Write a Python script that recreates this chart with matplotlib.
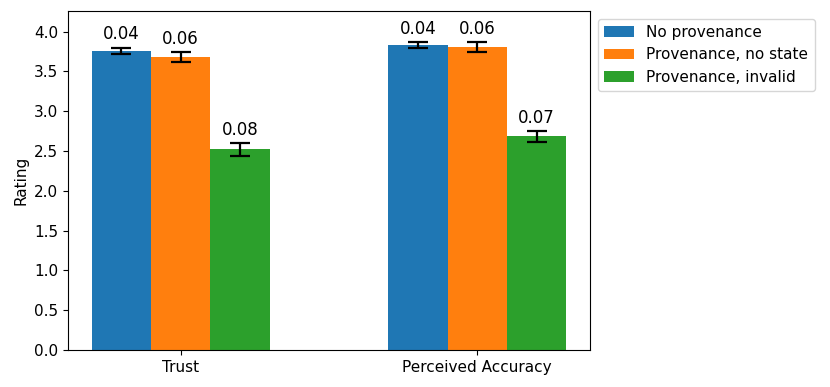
import matplotlib.pyplot as plt
import numpy as np

# categories and series
categories = ["Trust", "Perceived Accuracy"]
series_names = ["No provenance", "Provenance, no state", "Provenance, invalid"]
means = [
    [3.76, 3.83],   # No provenance
    [3.68, 3.81],   # Provenance, no state
    [2.52, 2.685],  # Provenance, invalid
]
errors = [
    [0.04, 0.04],
    [0.06, 0.06],
    [0.08, 0.07],
]
colors = ["#1f77b4", "#ff7f0e", "#2ca02c"]

fig = plt.figure(figsize=(8.3, 3.87), dpi=100)
ax = fig.add_axes([0.0819, 0.0956, 0.6289, 0.876])

x = np.arange(len(categories))
width = 0.2

for i in range(len(series_names)):
    pos = x + (i - 1) * width
    ax.bar(pos, means[i], width, yerr=errors[i], color=colors[i],
           label=series_names[i], capsize=7,
           error_kw=dict(elinewidth=1.6, capthick=1.6, ecolor="black"))
    # label above each error bar with the error value
    for p, m, e in zip(pos, means[i], errors[i]):
        ax.annotate("%.2f" % e, (p, m + e), xytext=(0, 3),
                    textcoords="offset points", ha="center", va="bottom",
                    fontsize=12)

ax.set_xticks(x)
ax.set_xticklabels(categories)
ax.tick_params(labelsize=11)
ax.set_ylabel("Rating", fontsize=11)
ax.set_ylim(0, 4.26)
ax.set_yticks(np.arange(0, 4.01, 0.5))

ax.legend(loc="upper left", bbox_to_anchor=(1.0, 1.0), fontsize=11)

plt.savefig("out.png")
